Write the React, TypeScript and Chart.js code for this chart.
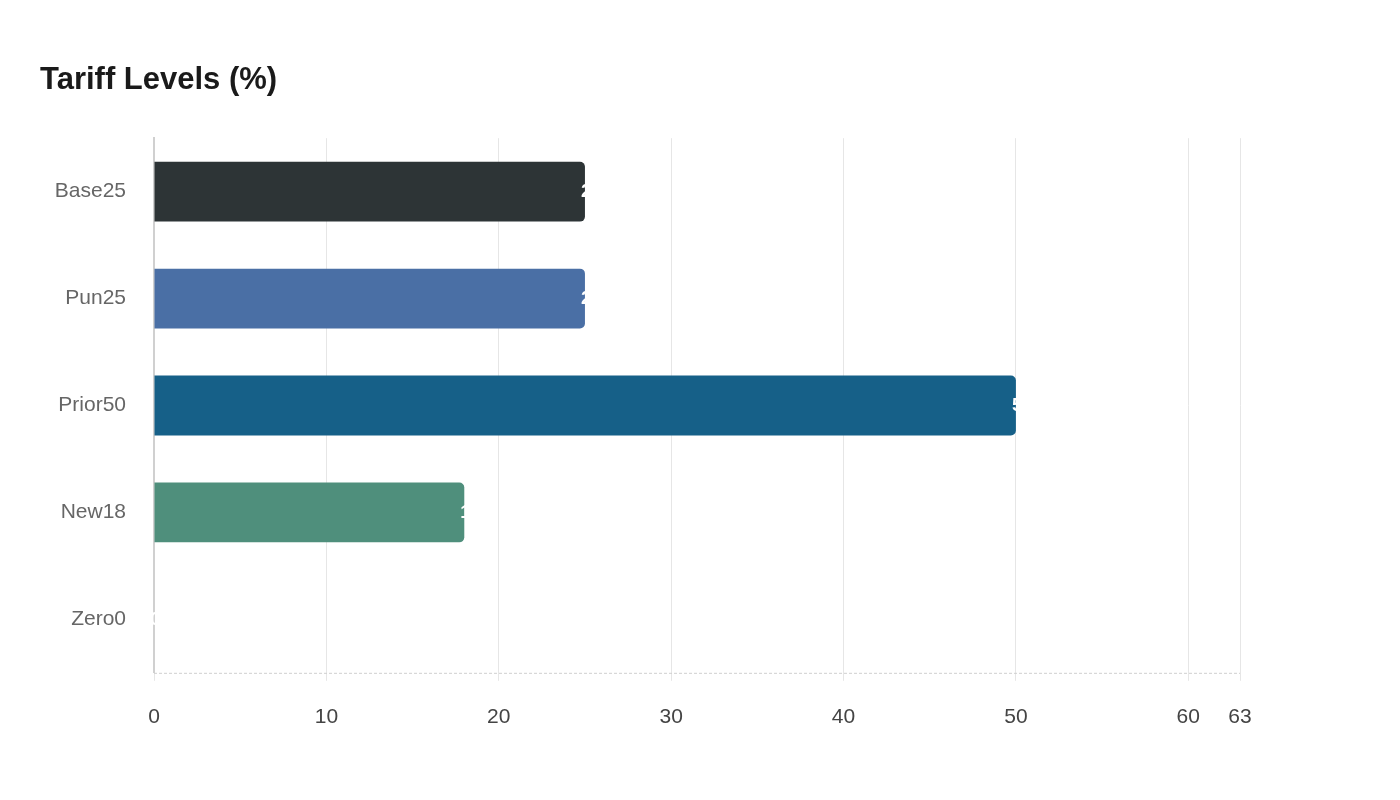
import React, { useRef, useEffect } from "react";
import { Chart, registerables } from "chart.js";

Chart.register(...registerables);

const categories = ["Base25", "Pun25", "Prior50", "New18", "Zero0"];
const tariffValues = [25, 25, 50, 18, 0];
const barColors = ["#2d3436", "#4a6fa5", "#166088", "#4f8f7c", "#e0e0e0"];
const xTicks = [0, 10, 20, 30, 40, 50, 60, 63];

const FONT = "'Liberation Sans', Arial, sans-serif";

// white value text at the end of each bar
const valueLabels = {
  id: "valueLabels",
  afterDatasetsDraw(chart: any) {
    const ctx = chart.ctx;
    const meta = chart.getDatasetMeta(0);
    ctx.save();
    ctx.font = `bold 19px ${FONT}`;
    ctx.fillStyle = "#ffffff";
    ctx.textAlign = "left";
    ctx.textBaseline = "middle";
    meta.data.forEach((bar: any, i: number) => {
      ctx.fillText(String(tariffValues[i]), bar.x - 4, bar.y);
    });
    ctx.restore();
  },
};

// dashed baseline under the bars
const dashedBase = {
  id: "dashedBase",
  beforeDatasetsDraw(chart: any) {
    const { ctx, chartArea } = chart;
    ctx.save();
    ctx.strokeStyle = "#cfcfcf";
    ctx.lineWidth = 1;
    ctx.setLineDash([3, 2]);
    ctx.beginPath();
    ctx.moveTo(chartArea.left, chartArea.bottom + 0.5);
    ctx.lineTo(chartArea.right, chartArea.bottom + 0.5);
    ctx.stroke();
    ctx.restore();
  },
};

const App: React.FC = () => {
  const canvasRef = useRef<HTMLCanvasElement | null>(null);

  useEffect(() => {
    document.body.style.margin = "0";
    if (!canvasRef.current) return;

    const chart = new Chart(canvasRef.current, {
      type: "bar",
      data: {
        labels: categories,
        datasets: [
          {
            label: "Tariff",
            data: tariffValues,
            backgroundColor: barColors,
            borderRadius: 5,
            categoryPercentage: 0.8,
            barPercentage: 0.7,
          },
        ],
      },
      options: {
        indexAxis: "y",
        responsive: false,
        animation: false,
        layout: { padding: { left: 40, right: 160, top: 0, bottom: 46 } },
        plugins: {
          legend: { display: false },
          tooltip: { enabled: false },
          title: {
            display: true,
            text: "Tariff Levels (%)",
            align: "start",
            color: "#1a1a1a",
            font: { family: FONT, size: 31, weight: "bold" },
            padding: { top: 62, bottom: 39 },
          },
        },
        scales: {
          x: {
            min: 0,
            max: 63,
            afterBuildTicks: (scale: any) => {
              scale.ticks = xTicks.map((v) => ({ value: v }));
            },
            grid: { color: "#e6e6e6", lineWidth: 1, tickLength: 8 },
            border: { display: false },
            ticks: {
              color: "#444444",
              padding: 24,
              font: { family: FONT, size: 21 },
              autoSkip: false,
              maxRotation: 0,
            },
          },
          y: {
            afterFit: (scale: any) => {
              scale.width = 114;
            },
            grid: { display: false, drawTicks: false },
            border: { display: true, color: "#d0d0d0", width: 2 },
            ticks: {
              color: "#666666",
              padding: 28,
              font: { family: FONT, size: 21 },
            },
          },
        },
      },
      plugins: [dashedBase, valueLabels],
    });

    return () => chart.destroy();
  }, []);

  return <canvas ref={canvasRef} width={1400} height={800} />;
};

export default App;
